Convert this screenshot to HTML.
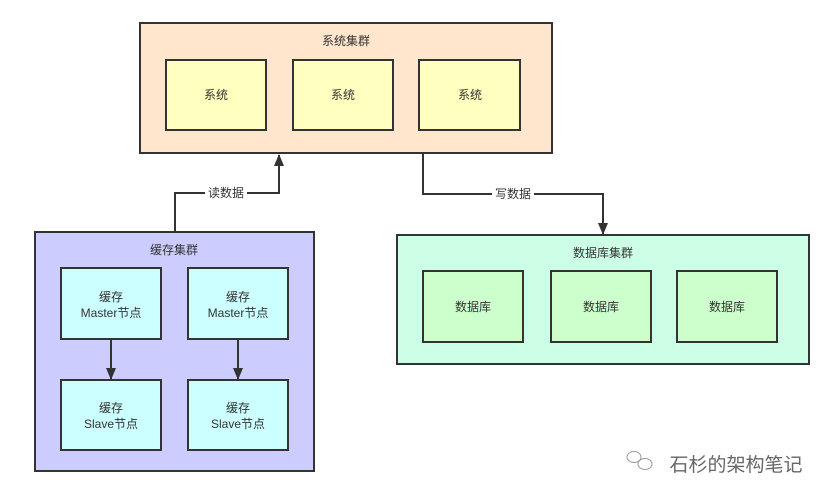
<!DOCTYPE html>
<html><head><meta charset="utf-8"><style>
html,body{margin:0;padding:0;background:#fff;}
svg{display:block;}
text{font-family:"Liberation Sans","Noto Sans CJK SC",sans-serif;font-size:12px;fill:#333;text-anchor:middle;}
</style></head><body>
<svg width="838" height="493" viewBox="0 0 838 493">
<defs><marker id="a" markerWidth="12" markerHeight="10" refX="11" refY="5" orient="auto" markerUnits="userSpaceOnUse" viewBox="0 0 12 10"><path d="M0,0 L12,5 L0,10 z" fill="#333"/></marker></defs>
<g stroke="#333" stroke-width="2">
<rect x="140" y="23" width="412" height="130" fill="#ffe6cc"/>
<rect x="166" y="60" width="100" height="70" fill="#ffffc0"/>
<rect x="293" y="60" width="100" height="70" fill="#ffffc0"/>
<rect x="419" y="60" width="101" height="70" fill="#ffffc0"/>
<rect x="35" y="232" width="279" height="239" fill="#ccccff"/>
<rect x="61" y="268" width="100" height="71" fill="#ccffff"/>
<rect x="188" y="268" width="100" height="71" fill="#ccffff"/>
<rect x="61" y="380" width="100" height="70" fill="#ccffff"/>
<rect x="188" y="380" width="100" height="70" fill="#ccffff"/>
<rect x="397" y="235" width="412" height="129" fill="#ccffe6"/>
<rect x="423" y="271" width="100" height="71" fill="#ccffcc"/>
<rect x="551" y="271" width="100" height="71" fill="#ccffcc"/>
<rect x="677" y="271" width="100" height="71" fill="#ccffcc"/>
<g fill="none">
<polyline points="175,231 175,193 279,193 279,155" marker-end="url(#a)"/>
<polyline points="423,154 423,194 603,194 603,234" marker-end="url(#a)"/>
<line x1="111" y1="340" x2="111" y2="379" marker-end="url(#a)"/>
<line x1="238" y1="340" x2="238" y2="379" marker-end="url(#a)"/>
</g>
</g>
<rect x="205" y="186" width="42" height="14" fill="#fff"/>
<rect x="492" y="187" width="42" height="14" fill="#fff"/>
<text x="346" y="45">系统集群</text>
<text x="216" y="99">系统</text>
<text x="343" y="99">系统</text>
<text x="470" y="99">系统</text>
<text x="226" y="197">读数据</text>
<text x="513" y="198">写数据</text>
<text x="174" y="254">缓存集群</text>
<text x="111" y="301">缓存</text><text x="111" y="317">Master节点</text>
<text x="238" y="301">缓存</text><text x="238" y="317">Master节点</text>
<text x="111" y="412">缓存</text><text x="111" y="428">Slave节点</text>
<text x="238" y="412">缓存</text><text x="238" y="428">Slave节点</text>
<text x="603" y="257">数据库集群</text>
<text x="473" y="311">数据库</text>
<text x="601" y="311">数据库</text>
<text x="727" y="311">数据库</text>
<g fill="none" stroke="#999" stroke-width="1">
<ellipse cx="634" cy="457" rx="7" ry="5.5"/><ellipse cx="645" cy="464" rx="7" ry="5.5"/>
</g>
<text x="736" y="471" style="font-size:19px;fill:#666">石杉的架构笔记</text>
</svg>
</body></html>
